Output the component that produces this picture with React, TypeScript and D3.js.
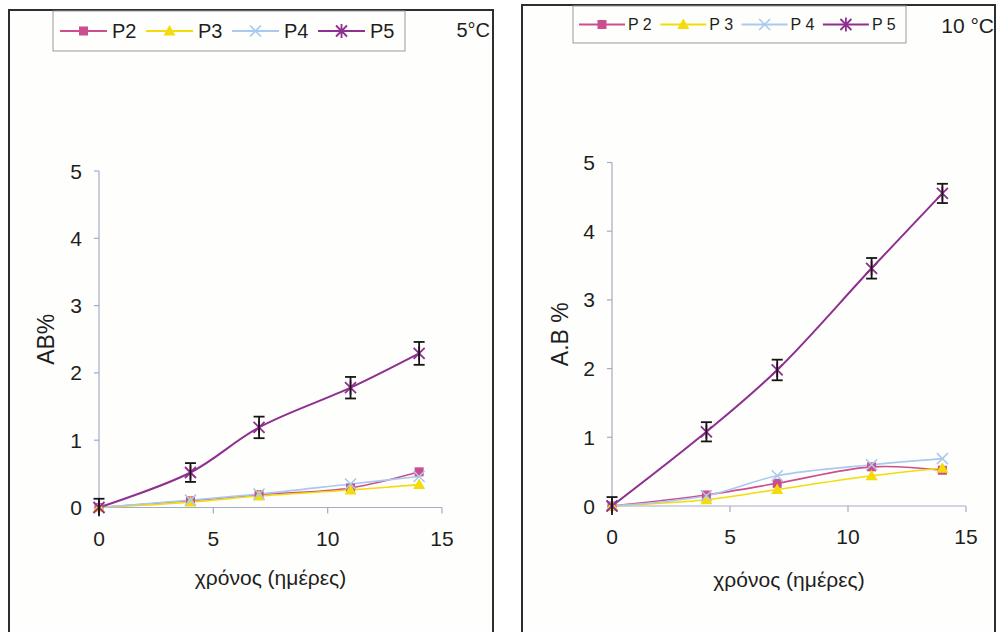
import React from 'react';
import * as d3 from 'd3';

// Sampling days
const days = [0, 4, 7, 11, 14];

// 5 °C storage
const p2At5 = [0, 0.10, 0.19, 0.29, 0.53];
const p3At5 = [0, 0.08, 0.17, 0.26, 0.34];
const p4At5 = [0, 0.11, 0.20, 0.35, 0.46];
const p5At5 = [0, 0.52, 1.19, 1.78, 2.29];
const p5ErrAt5 = [0.13, 0.14, 0.16, 0.16, 0.17];

// 10 °C storage
const p2At10 = [0, 0.16, 0.33, 0.57, 0.52];
const p3At10 = [0, 0.09, 0.24, 0.44, 0.55];
const p4At10 = [0, 0.15, 0.44, 0.60, 0.69];
const p5At10 = [0, 1.08, 1.98, 3.46, 4.55];
const p5ErrAt10 = [0.13, 0.14, 0.15, 0.15, 0.14];

const xTicks = [0, 5, 10, 15];
const yTicks = [0, 1, 2, 3, 4, 5];
const seriesNames = ['P2', 'P3', 'P4', 'P5'];

const COLORS: Record<string, string> = {
  P2: '#cc4e8e',
  P3: '#f3dc08',
  P4: '#a9c9ee',
  P5: '#8f2f8f',
};
const MARKERS: Record<string, string> = {
  P2: 'square',
  P3: 'triangle',
  P4: 'cross',
  P5: 'star',
};

const FONT = "'Liberation Sans', Arial, Helvetica, sans-serif";

function Marker({ type, x, y, color }: { type: string; x: number; y: number; color: string }) {
  if (type === 'square') {
    return <rect x={x - 4.5} y={y - 4.5} width={9} height={9} fill={color} />;
  }
  if (type === 'triangle') {
    return <path d={`M${x},${y - 6}L${x + 6},${y + 4.5}L${x - 6},${y + 4.5}Z`} fill={color} />;
  }
  if (type === 'cross') {
    const s = 5.5;
    return (
      <path
        d={`M${x - s},${y - s}L${x + s},${y + s}M${x - s},${y + s}L${x + s},${y - s}`}
        stroke={color}
        strokeWidth={1.6}
        fill="none"
      />
    );
  }
  const s = 5.5;
  return (
    <path
      d={`M${x - s},${y - s}L${x + s},${y + s}M${x - s},${y + s}L${x + s},${y - s}M${x},${y - 7}L${x},${y + 7}`}
      stroke={color}
      strokeWidth={1.8}
      fill="none"
    />
  );
}

type PanelProps = {
  frame: { x: number; y: number; w: number; h: number };
  xr: [number, number];
  yr: [number, number];
  values: number[][];
  errors: number[];
  legend: { x: number; y: number; w: number; h: number; start: number; step: number; line: number; gap: number; font: number; spaced: boolean };
  title: { text: string; x: number; y: number; size: number };
  yLabel: { text: string; x: number };
  xLabelY: number;
};

function Panel({ frame, xr, yr, values, errors, legend, title, yLabel, xLabelY }: PanelProps) {
  const x = d3.scaleLinear().domain([0, 15]).range(xr);
  const y = d3.scaleLinear().domain([0, 5]).range(yr);
  const line = d3
    .line<[number, number]>()
    .x((d) => x(d[0]))
    .y((d) => y(d[1]))
    .curve(d3.curveCatmullRom.alpha(0.5));
  const axisColor = '#a3abc9';
  const legendMidY = legend.y + legend.h / 2;

  return (
    <g>
      <rect x={frame.x} y={frame.y} width={frame.w} height={frame.h} fill="#fefefc" stroke="#2e2e2e" strokeWidth={2} />

      {/* legend */}
      <rect x={legend.x} y={legend.y} width={legend.w} height={legend.h} fill="none" stroke="#9a9a9a" strokeWidth={1} />
      {seriesNames.map((name, i) => {
        const lx = legend.start + i * legend.step;
        return (
          <g key={name}>
            <line x1={lx} x2={lx + legend.line} y1={legendMidY} y2={legendMidY} stroke={COLORS[name]} strokeWidth={1.8} />
            <Marker type={MARKERS[name]} x={lx + legend.line / 2} y={legendMidY} color={COLORS[name]} />
            <text
              x={lx + legend.line + legend.gap}
              y={legendMidY}
              dy="0.36em"
              fontSize={legend.font}
              fontFamily={FONT}
              fill="#1e1e1e"
            >
              {legend.spaced ? name.split('').join(' ') : name}
            </text>
          </g>
        );
      })}
      <text x={title.x} y={title.y} dy="0.36em" textAnchor="end" fontSize={title.size} fontFamily={FONT} fill="#1e1e1e">
        {title.text}
      </text>

      {/* axes */}
      <line x1={x(0)} x2={x(0)} y1={y(0)} y2={y(5)} stroke={axisColor} strokeWidth={1.2} />
      <line x1={x(0)} x2={x(15)} y1={y(0)} y2={y(0)} stroke={axisColor} strokeWidth={1.2} />
      {yTicks.map((t) => (
        <g key={'y' + t}>
          <line x1={x(0) - 5} x2={x(0)} y1={y(t)} y2={y(t)} stroke={axisColor} strokeWidth={1.2} />
          <text x={x(0) - 17} y={y(t)} dy="0.36em" textAnchor="end" fontSize={21} fontFamily={FONT} fill="#1e1e1e">
            {t}
          </text>
        </g>
      ))}
      {xTicks.map((t) => (
        <g key={'x' + t}>
          {t > 0 && <line x1={x(t)} x2={x(t)} y1={y(0)} y2={y(0) + 6} stroke={axisColor} strokeWidth={1.2} />}
          <text x={x(t)} y={y(0) + 38} textAnchor="middle" fontSize={21} fontFamily={FONT} fill="#1e1e1e">
            {t}
          </text>
        </g>
      ))}
      <text
        x={(xr[0] + xr[1]) / 2}
        y={xLabelY}
        textAnchor="middle"
        fontSize={21}
        fontFamily={FONT}
        fill="#1e1e1e"
      >
        χρόνος (ημέρες)
      </text>
      <text
        transform={`translate(${yLabel.x},${(yr[0] + yr[1]) / 2}) rotate(-90)`}
        textAnchor="middle"
        dy="0.36em"
        fontSize={23}
        fontFamily={FONT}
        fill="#1e1e1e"
      >
        {yLabel.text}
      </text>

      {/* series */}
      {seriesNames.map((name, i) => (
        <path
          key={'l' + name}
          d={line(days.map((d, j) => [d, values[i][j]] as [number, number])) || ''}
          fill="none"
          stroke={COLORS[name]}
          strokeWidth={name === 'P5' ? 2 : 1.6}
        />
      ))}
      {seriesNames.map((name, i) =>
        days.map((d, j) => (
          <Marker key={name + j} type={MARKERS[name]} x={x(d)} y={y(values[i][j])} color={COLORS[name]} />
        ))
      )}
      {days.map((d, j) => {
        const v = values[3][j];
        const e = errors[j];
        const cx = x(d);
        return (
          <g key={'e' + j} stroke="#151515" strokeWidth={1.8}>
            <line x1={cx} x2={cx} y1={y(v - e)} y2={y(v + e)} />
            <line x1={cx - 5.5} x2={cx + 5.5} y1={y(v + e)} y2={y(v + e)} />
            {v - e > 0 && <line x1={cx - 5.5} x2={cx + 5.5} y1={y(v - e)} y2={y(v - e)} />}
          </g>
        );
      })}
    </g>
  );
}

export default function App() {
  return (
    <svg
      width={999}
      height={632}
      viewBox="0 0 999 632"
      style={{ position: 'absolute', left: 0, top: 0, display: 'block', background: '#ffffff' }}
    >
      <Panel
        frame={{ x: 9, y: 10, w: 484, h: 640 }}
        xr={[99, 442]}
        yr={[507.5, 171]}
        values={[p2At5, p3At5, p4At5, p5At5]}
        errors={p5ErrAt5}
        legend={{ x: 53, y: 11, w: 352, h: 40, start: 60, step: 86, line: 47, gap: 5, font: 20, spaced: false }}
        title={{ text: '5°C', x: 490, y: 30, size: 20 }}
        yLabel={{ text: 'AB%', x: 46 }}
        xLabelY={585}
      />
      <Panel
        frame={{ x: 522, y: 5, w: 473, h: 640 }}
        xr={[612, 966]}
        yr={[506, 162.5]}
        values={[p2At10, p3At10, p4At10, p5At10]}
        errors={p5ErrAt10}
        legend={{ x: 573, y: 6, w: 333, h: 37, start: 579, step: 81.3, line: 46, gap: 3, font: 16, spaced: true }}
        title={{ text: '10 °C', x: 994, y: 25, size: 21 }}
        yLabel={{ text: 'A.B %', x: 560 }}
        xLabelY={587}
      />
    </svg>
  );
}
